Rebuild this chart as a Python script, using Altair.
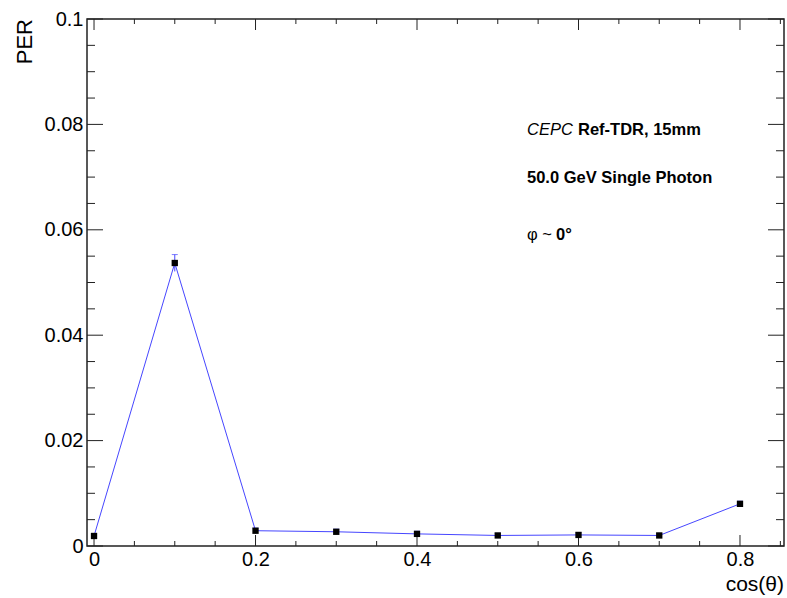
import altair as alt
import pandas as pd

# PER versus cos(theta) for 50 GeV single photons
cos_theta = [0.0, 0.1, 0.2, 0.3, 0.4, 0.5, 0.6, 0.7, 0.8]
per = [0.0019, 0.0537, 0.0029, 0.0027, 0.0023, 0.0020, 0.0021, 0.0020, 0.0080]
per_err = [0.0004, 0.0016, 0.0005, 0.0005, 0.0005, 0.0004, 0.0004, 0.0004, 0.0005]

x_major = [0.0, 0.2, 0.4, 0.6, 0.8]
x_minor = [0.05, 0.1, 0.15, 0.25, 0.3, 0.35, 0.45, 0.5, 0.55, 0.65, 0.7, 0.75, 0.85]
y_major = [0.0, 0.02, 0.04, 0.06, 0.08, 0.1]
y_minor = [0.005 * i for i in range(21) if i % 4 != 0]

W, H = 697, 527
FONT = "Liberation Sans"
X_DOMAIN = [-0.0087, 0.8545]

df = pd.DataFrame({"c": cos_theta, "per": per,
                   "lo": [p - e for p, e in zip(per, per_err)],
                   "hi": [p + e for p, e in zip(per, per_err)]})

xs = alt.Scale(domain=X_DOMAIN, nice=False, zero=False)
ys = alt.Scale(domain=[0, 0.1], nice=False)

x_axis = alt.Axis(values=x_major, format="~g", labelFontSize=20, labelFont=FONT,
                  labelColor="black", tickSize=0, domain=False, grid=False,
                  labelPadding=3, title=None)
y_axis = alt.Axis(values=y_major, format="~g", labelFontSize=20, labelFont=FONT,
                  labelColor="black", tickSize=0, domain=False, grid=False,
                  labelPadding=4, title=None)

base = alt.Chart(df)

line = base.mark_line(color="#4646ff", strokeWidth=1).encode(
    x=alt.X("c:Q", scale=xs, axis=x_axis),
    y=alt.Y("per:Q", scale=ys, axis=y_axis),
)

errbar = base.mark_rule(color="#4646ff", strokeWidth=1).encode(
    x=alt.X("c:Q", scale=xs), y=alt.Y("lo:Q", scale=ys), y2="hi:Q")

caps = base.mark_tick(color="#4646ff", thickness=1, size=6, orient="horizontal").encode(
    x=alt.X("c:Q", scale=xs), y=alt.Y("hi:Q", scale=ys))

points = base.mark_square(color="black", size=40, opacity=1).encode(
    x=alt.X("c:Q", scale=xs), y=alt.Y("per:Q", scale=ys))


def xticks(vals, length, top):
    d = pd.DataFrame({"v": [v for v in vals if X_DOMAIN[0] <= v <= X_DOMAIN[1]]})
    y0, y1 = (0, length) if top else (H, H - length)
    return alt.Chart(d).mark_rule(color="#222", strokeWidth=1).encode(
        x=alt.X("v:Q", scale=xs), y=alt.value(y0), y2=alt.value(y1))


def yticks(vals, length, right):
    d = pd.DataFrame({"v": vals})
    x0, x1 = (W, W - length) if right else (0, length)
    return alt.Chart(d).mark_rule(color="#222", strokeWidth=1).encode(
        y=alt.Y("v:Q", scale=ys), x=alt.value(x0), x2=alt.value(x1))


ticks = [
    xticks(x_major, 11, False), xticks(x_minor, 5, False),
    xticks(x_major, 11, True), xticks(x_minor, 5, True),
    yticks(y_major, 16, False), yticks(y_minor, 8, False),
    yticks(y_major, 16, True), yticks(y_minor, 8, True),
]


def label(text, x, y, align="left", **kw):
    return alt.Chart(pd.DataFrame({"t": [text]})).mark_text(
        font=FONT, color="black", align=align, baseline="alphabetic", **kw
    ).encode(text="t:N", x=alt.value(x), y=alt.value(y))


texts = [
    label("CEPC", 440, 116, fontSize=16.5, fontStyle="italic"),
    label("Ref-TDR, 15mm", 491, 116, fontSize=16.5, fontWeight="bold"),
    label("50.0 GeV Single Photon", 440, 164, fontSize=16.5, fontWeight="bold"),
    label("φ ~", 440, 221, fontSize=16.5),
    label("0°", 469, 221, fontSize=16.5, fontWeight="bold"),
    label("cos(θ)", W, 572, align="right", fontSize=21),
    label("PER", -55, 0, align="right", fontSize=22, angle=270),
]

chart = alt.layer(line, errbar, caps, *ticks, points, *texts).properties(
    width=W, height=H,
    autosize=alt.AutoSizeParams(type="none"),
    padding={"left": 87, "top": 19, "right": 3, "bottom": 52},
    background="white",
).configure_view(stroke="#222", strokeWidth=1.5)

chart.save("out.html", embed_options={"renderer": "svg", "actions": False})
